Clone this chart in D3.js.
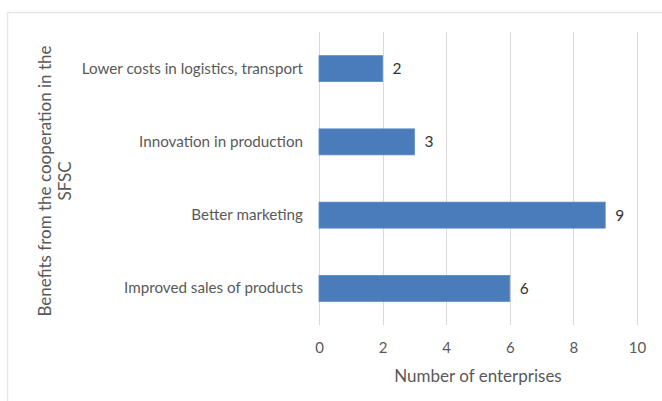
<!DOCTYPE html>
<html>
<head>
<meta charset="utf-8">
<script src="https://cdn.jsdelivr.net/npm/d3@7"></script>
<style>
  html, body { margin: 0; padding: 0; background: #fff; }
  svg { display: block; }
</style>
</head>
<body>
<svg id="chart" width="662" height="401"></svg>
<script>
// Benefits from cooperation in the short food supply chain (SFSC)
const categories = [
  "Lower costs in logistics, transport",
  "Innovation in production",
  "Better marketing",
  "Improved sales of products"
];
const enterprises = [2, 3, 9, 6];
const xTicks = [0, 2, 4, 6, 8, 10];
const xTitle = "Number of enterprises";
const yTitleLines = ["Benefits from the cooperation in the", "SFSC"];

const W = 662, H = 401;
const plot = { left: 319, right: 637, top: 32, bottom: 325 };
const font = "Lato, 'Open Sans', sans-serif";

const svg = d3.select("#chart");

// chart frame
svg.append("rect")
  .attr("x", 7.5).attr("y", 12.5)
  .attr("width", W).attr("height", H)
  .attr("fill", "#fff")
  .attr("stroke", "#e6e6e6").attr("stroke-width", 1.5);

const x = d3.scaleLinear().domain([0, 10]).range([plot.left, plot.right]);
const y = d3.scaleBand()
  .domain(categories)
  .range([plot.top, plot.bottom])
  .paddingInner(0.645)
  .paddingOuter(0.3225);

// vertical gridlines
svg.append("g")
  .selectAll("line")
  .data(xTicks)
  .join("line")
  .attr("x1", d => Math.round(x(d)) + 0.5)
  .attr("x2", d => Math.round(x(d)) + 0.5)
  .attr("y1", plot.top)
  .attr("y2", plot.bottom)
  .attr("stroke", "#d9d9d9")
  .attr("stroke-width", 1);

// bars
svg.append("g")
  .selectAll("rect")
  .data(categories)
  .join("rect")
  .attr("x", x(0))
  .attr("y", d => y(d))
  .attr("width", (d, i) => x(enterprises[i]) - x(0))
  .attr("height", y.bandwidth())
  .attr("fill", "#4a7bbb")
  .attr("stroke", "#5b8bc9")
  .attr("stroke-width", 0.8);

// value labels
svg.append("g")
  .selectAll("text")
  .data(categories)
  .join("text")
  .attr("x", (d, i) => x(enterprises[i]) + 10)
  .attr("y", d => y(d) + y.bandwidth() / 2)
  .attr("dy", "0.35em")
  .attr("font-family", font)
  .attr("font-size", 15.5)
  .attr("fill", "#333333")
  .text((d, i) => enterprises[i]);

// x axis tick labels
const xAxis = d3.axisBottom(x).tickValues(xTicks).tickSize(0).tickPadding(0);
const gx = svg.append("g")
  .attr("transform", `translate(0,${plot.bottom})`)
  .call(xAxis);
gx.select(".domain").remove();
gx.selectAll("text")
  .attr("y", 23)
  .attr("dy", "0.35em")
  .attr("font-family", font)
  .attr("font-size", 15)
  .attr("fill", "#595959");

// category labels
const yAxis = d3.axisLeft(y).tickSize(0).tickPadding(0);
const gy = svg.append("g")
  .attr("transform", `translate(${plot.left - 16},0)`)
  .call(yAxis);
gy.select(".domain").remove();
gy.selectAll("text")
  .attr("font-family", font)
  .attr("font-size", 15.2)
  .attr("fill", "#595959")
  .attr("text-anchor", "end");

// axis titles
svg.append("text")
  .attr("x", 478)
  .attr("y", 376)
  .attr("dy", "0.35em")
  .attr("text-anchor", "middle")
  .attr("font-family", font)
  .attr("font-size", 17)
  .attr("fill", "#595959")
  .text(xTitle);

svg.append("g")
  .attr("transform", "translate(45,181) rotate(-90)")
  .selectAll("text")
  .data(yTitleLines)
  .join("text")
  .attr("x", 0)
  .attr("y", (d, i) => i * 20)
  .attr("dy", "0.35em")
  .attr("text-anchor", "middle")
  .attr("font-family", font)
  .attr("font-size", 17)
  .attr("fill", "#595959")
  .text(d => d);
</script>
</body>
</html>
